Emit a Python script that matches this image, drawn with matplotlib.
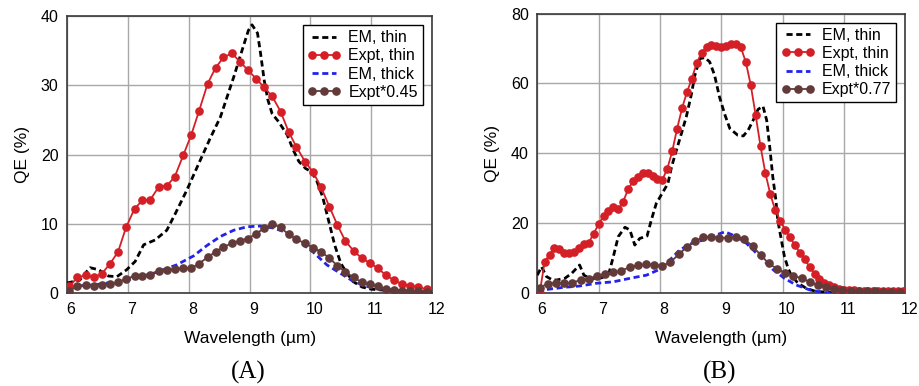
import matplotlib
matplotlib.use("Agg")
import matplotlib.pyplot as plt
import matplotlib.transforms as mtransforms

plt.rcParams['font.family'] = ['Liberation Sans', 'DejaVu Sans']

# ---------------- Panel A data ----------------
a_expt_wl = [6.04, 6.17, 6.31, 6.44, 6.57, 6.71, 6.84, 6.97, 7.11, 7.24,
             7.37, 7.51, 7.64, 7.77, 7.91, 8.04, 8.17, 8.31, 8.44, 8.57,
             8.71, 8.84, 8.97, 9.11, 9.24, 9.37, 9.51, 9.64, 9.77, 9.91,
             10.04, 10.17, 10.31, 10.44, 10.57, 10.71, 10.84, 10.97, 11.11, 11.24,
             11.37, 11.51, 11.64, 11.77, 11.91]
a_expt_thin = [1.0, 2.3, 2.6, 2.3, 2.8, 4.3, 6.0, 9.5, 12.2, 13.4,
               13.5, 15.4, 15.5, 16.8, 19.9, 22.8, 26.3, 30.2, 32.5, 34.0,
               34.6, 33.4, 32.2, 30.9, 29.7, 28.4, 26.2, 23.3, 21.1, 19.0,
               17.5, 15.4, 12.5, 9.9, 7.6, 6.1, 5.1, 4.4, 3.6, 2.6,
               1.9, 1.3, 1.1, 0.9, 0.6]
a_expt_scaled = [0.3, 1.1, 1.15, 1.1, 1.15, 1.3, 1.6, 2.1, 2.5, 2.5,
                 2.6, 3.2, 3.4, 3.5, 3.6, 3.6, 4.3, 5.2, 6.0, 6.7,
                 7.2, 7.6, 7.9, 8.6, 9.4, 10.0, 9.5, 8.5, 7.8, 7.2,
                 6.6, 6.0, 5.1, 4.0, 3.1, 2.3, 1.6, 1.3, 1.0, 0.7,
                 0.5, 0.4, 0.3, 0.3, 0.25]
a_em_thin_wl = [6.0, 6.21, 6.3, 6.38, 6.52, 6.68, 6.82, 6.98, 7.12, 7.26,
                7.45, 7.64, 7.78, 7.97, 8.19, 8.35, 8.52, 8.63, 8.74, 8.85,
                8.98, 9.04, 9.13, 9.18, 9.24, 9.3, 9.37, 9.48, 9.62, 9.72,
                9.81, 9.92, 10.02, 10.1, 10.2, 10.3, 10.4, 10.5, 10.6, 10.7,
                10.85, 11.0, 11.3, 11.6, 12.0]
a_em_thin = [1.5, 1.9, 2.9, 3.7, 3.4, 2.5, 2.4, 3.4, 4.6, 7.0,
             7.7, 9.1, 11.5, 14.9, 19.2, 22.3, 25.4, 28.3, 31.2, 34.3,
             37.9, 38.7, 37.5, 34.6, 30.7, 27.9, 25.9, 24.7, 22.8, 20.6,
             19.0, 18.0, 17.5, 16.3, 13.9, 10.4, 6.9, 4.3, 2.9, 1.7,
             0.9, 0.6, 0.4, 0.3, 0.2]
a_em_thick_wl = [6.0, 6.43, 6.98, 7.42, 7.8, 8.08, 8.3, 8.52, 8.74, 8.96,
                 9.18, 9.4, 9.56, 9.78, 10.05, 10.27, 10.49, 10.71, 10.93, 11.15,
                 11.5, 12.0]
a_em_thick = [1.0, 1.2, 1.9, 2.9, 4.1, 5.4, 6.9, 8.2, 9.1, 9.6,
              9.7, 9.4, 8.9, 7.7, 5.9, 4.1, 2.9, 1.7, 1.0, 0.6,
              0.4, 0.3]

# ---------------- Panel B data ----------------
b_expt_wl = [6.04, 6.12, 6.20, 6.28, 6.36, 6.44, 6.52, 6.60, 6.68, 6.76,
             6.84, 6.92, 7.00, 7.08, 7.16, 7.24, 7.32, 7.40, 7.48, 7.56,
             7.64, 7.72, 7.80, 7.88, 7.96, 8.04, 8.12, 8.20, 8.28, 8.36,
             8.44, 8.52, 8.60, 8.68, 8.76, 8.84, 8.92, 9.00, 9.08, 9.16,
             9.24, 9.32, 9.40, 9.48, 9.56, 9.64, 9.72, 9.80, 9.88, 9.96,
             10.04, 10.12, 10.20, 10.28, 10.36, 10.44, 10.52, 10.60, 10.68, 10.76,
             10.84, 10.92, 11.00, 11.08, 11.16, 11.24, 11.32, 11.40, 11.48, 11.56,
             11.64, 11.72, 11.80, 11.88, 11.96]
b_expt_thin = [0.2, 9.0, 11.1, 12.9, 12.6, 11.4, 11.6, 11.7, 12.9, 14.0,
               14.5, 17.1, 19.8, 22.1, 23.5, 24.6, 24.0, 26.2, 29.7, 32.1,
               33.3, 34.3, 34.3, 33.5, 32.6, 32.5, 35.6, 40.6, 47.1, 52.9,
               57.5, 61.4, 65.9, 68.8, 70.5, 71.0, 70.6, 70.4, 70.8, 71.3,
               71.4, 70.3, 66.1, 59.6, 51.0, 42.0, 34.3, 28.3, 23.8, 20.8,
               18.2, 16.0, 13.8, 11.6, 9.7, 7.6, 5.5, 4.0, 3.0, 2.4,
               1.7, 1.3, 1.1, 1.0, 1.0, 0.8, 0.8, 0.6, 0.6, 0.6,
               0.8, 0.6, 0.6, 0.6, 0.8]
b_scaled_wl = [6.04, 6.17, 6.31, 6.44, 6.57, 6.71, 6.84, 6.97, 7.11, 7.24,
               7.37, 7.51, 7.64, 7.77, 7.91, 8.04, 8.17, 8.31, 8.44, 8.57,
               8.71, 8.84, 8.97, 9.11, 9.24, 9.37, 9.51, 9.64, 9.77, 9.91,
               10.04, 10.17, 10.31, 10.44, 10.57, 10.71, 10.84, 10.97, 11.11, 11.24,
               11.37, 11.51, 11.64, 11.77, 11.91]
b_expt_scaled = [1.6, 2.8, 3.0, 2.9, 3.1, 3.8, 4.1, 5.0, 5.6, 6.0,
                 6.5, 7.5, 8.0, 8.3, 8.1, 7.9, 8.9, 11.2, 13.3, 15.0,
                 16.0, 16.2, 15.9, 15.9, 16.2, 15.6, 13.5, 11.0, 8.6, 7.0,
                 5.9, 5.1, 4.3, 3.3, 2.4, 1.7, 1.3, 1.0, 0.8, 0.7,
                 0.6, 0.6, 0.5, 0.5, 0.5]
b_em_thin_wl = [6.0, 6.07, 6.15, 6.23, 6.31, 6.45, 6.56, 6.69, 6.76, 6.86,
                7.02, 7.16, 7.24, 7.32, 7.43, 7.51, 7.59, 7.67, 7.79, 7.86,
                7.94, 8.05, 8.13, 8.19, 8.27, 8.35, 8.43, 8.51, 8.57, 8.65,
                8.73, 8.81, 8.89, 8.97, 9.06, 9.14, 9.27, 9.36, 9.44, 9.52,
                9.6, 9.68, 9.74, 9.79, 9.84, 9.89, 9.92, 9.98, 10.03, 10.09,
                10.14, 10.25, 10.39, 10.55, 11.0, 12.0]
b_em_thin = [5.2, 7.6, 4.8, 4.0, 3.8, 4.3, 5.7, 8.1, 5.2, 4.3,
             4.3, 5.2, 10.5, 16.2, 18.9, 18.1, 13.8, 15.7, 16.4, 21.0,
             25.7, 29.0, 31.4, 36.2, 41.0, 45.7, 50.5, 56.7, 62.4, 67.1,
             67.4, 66.2, 62.4, 56.2, 51.0, 47.1, 45.2, 45.0, 46.7, 49.5,
             52.6, 53.5, 49.5, 41.9, 33.3, 26.7, 21.0, 15.2, 10.5, 7.1,
             5.2, 2.9, 1.4, 0.5, 0.2, 0.1]
b_em_thick_wl = [6.0, 6.15, 6.42, 6.69, 6.97, 7.24, 7.51, 7.78, 8.0, 8.16,
                 8.32, 8.54, 8.7, 8.87, 9.06, 9.25, 9.41, 9.63, 9.85, 10.03,
                 10.22, 10.44, 10.66, 11.0, 12.0]
b_em_thick = [0.8, 1.1, 1.7, 2.1, 2.9, 3.3, 4.3, 5.2, 6.9, 9.5,
              12.4, 14.5, 15.2, 16.4, 17.6, 16.2, 14.3, 10.5, 6.7, 4.3,
              2.4, 1.0, 0.2, 0.05, 0.0]

x_ticks = [6, 7, 8, 9, 10, 11, 12]
a_y_ticks = [0, 10, 20, 30, 40]
b_y_ticks = [0, 20, 40, 60, 80]
labels = ['EM, thin', 'Expt, thin', 'EM, thick']

RED = '#d41f27'
BROWN = '#633a3a'
BLUE = '#2222ee'

fig = plt.figure(figsize=(9.2, 3.86), dpi=100)
axA = fig.add_axes([0.0728, 0.240, 0.397, 0.719])
axB = fig.add_axes([0.584, 0.240, 0.400, 0.725])


def draw(ax, em_thin_wl, em_thin, expt_wl, expt_thin, em_thick_wl, em_thick,
         sc_wl, sc, sc_label, yticks):
    ax.plot(em_thin_wl, em_thin, color='black', lw=2.0, dashes=(2.2, 1.3),
            label=labels[0], zorder=3)
    ax.plot(expt_wl, expt_thin, color=RED, lw=1.3, marker='o', ms=5.2,
            label=labels[1], zorder=4)
    ax.plot(em_thick_wl, em_thick, color=BLUE, lw=2.0, dashes=(2.2, 1.3),
            label=labels[2], zorder=3)
    ax.plot(sc_wl, sc, color=BROWN, lw=1.3, marker='o', ms=5.2,
            label=sc_label, zorder=4)
    ax.set_xlim(6, 12)
    ax.set_ylim(yticks[0], yticks[-1])
    ax.set_xticks(x_ticks)
    ax.set_yticks(yticks)
    ax.grid(True, color='#a8a8a8', lw=1.0, zorder=0)
    ax.set_axisbelow(True)
    for s in ax.spines.values():
        s.set_color('#3a3a3a')
        s.set_linewidth(1.2)
    ax.tick_params(length=0, labelsize=11.5, pad=6)
    ax.tick_params(axis='x', pad=6)
    off = mtransforms.ScaledTranslation(4 / 100, 0, fig.dpi_scale_trans)
    for lab in ax.get_xticklabels():
        lab.set_transform(lab.get_transform() + off)
    ax.set_xlabel('Wavelength (µm)', fontsize=12.5, labelpad=10)
    ax.set_ylabel('QE (%)', fontsize=12.5, labelpad=8)
    leg = ax.legend(loc='upper right', fontsize=11.5, frameon=True, fancybox=False,
                    framealpha=1, edgecolor='black', handlelength=2.1,
                    handletextpad=0.45, labelspacing=0.2, borderpad=0.3,
                    borderaxespad=0.6, numpoints=3)
    leg.get_frame().set_linewidth(1.0)


draw(axA, a_em_thin_wl, a_em_thin, a_expt_wl, a_expt_thin, a_em_thick_wl,
     a_em_thick, a_expt_wl, a_expt_scaled, 'Expt*0.45', a_y_ticks)
draw(axB, b_em_thin_wl, b_em_thin, b_expt_wl, b_expt_thin, b_em_thick_wl,
     b_em_thick, b_scaled_wl, b_expt_scaled, 'Expt*0.77', b_y_ticks)

fig.text(0.2696, 0.036, '(A)', family='Liberation Serif', fontsize=18,
         ha='center', va='center')
fig.text(0.7826, 0.036, '(B)', family='Liberation Serif', fontsize=18,
         ha='center', va='center')

fig.savefig('out.png', dpi=100)
